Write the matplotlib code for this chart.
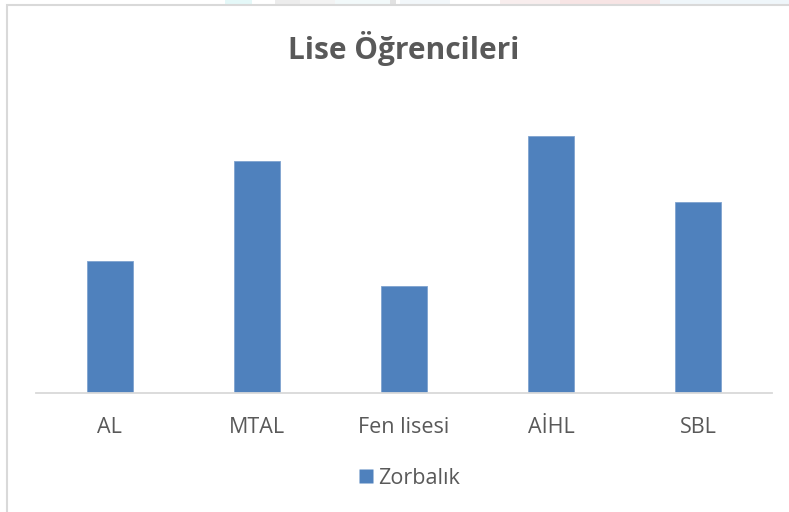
import matplotlib.pyplot as plt
from matplotlib.lines import Line2D
from matplotlib.patches import Rectangle

plt.rcParams['font.family'] = ['Open Sans', 'DejaVu Sans']

okul_turleri = ['AL', 'MTAL', 'Fen lisesi', 'AİHL', 'SBL']
zorbalik = [13.2, 23.2, 10.7, 25.7, 19.1]

bar_rengi = '#4F81BD'
yazi_rengi = '#595959'
cizgi_rengi = '#D9D9D9'

W, H = 789, 512
fig = plt.figure(figsize=(W / 100, H / 100), dpi=100)

# faint strip of a picture peeking above the chart frame
for x0, x1, c in [(225, 252, '#E4F8F8'), (275, 300, '#ECECEC'), (300, 335, '#F3F3F3'),
                  (335, 390, '#F2F9FA'), (390, 396, '#E2E2E2'), (400, 450, '#F2F7FA'),
                  (500, 560, '#F8EDED'), (560, 660, '#F7E4E4'), (660, 789, '#EFF6FA')]:
    fig.patches.append(Rectangle((x0 / W, 1 - 4.5 / H), (x1 - x0) / W, 4.5 / H,
                                 transform=fig.transFigure, facecolor=c, edgecolor='none'))

# chart frame
fig.patches.append(Rectangle((6.5 / W, -0.1), 1.2, 1 - 4.7 / H + 0.1,
                             transform=fig.transFigure, fill=False,
                             edgecolor=cizgi_rengi, linewidth=1.5))

ax = fig.add_axes([36 / W, (H - 393) / H, (772 - 36) / W, 300 / H])
x = range(len(okul_turleri))
ax.bar(x, zorbalik, width=0.313, color=bar_rengi, edgecolor='#7FA3CF', linewidth=0.6)
ax.set_xlim(-0.5, len(okul_turleri) - 0.5)
ax.set_ylim(0, 30)

for s in ['top', 'right', 'left']:
    ax.spines[s].set_visible(False)
ax.spines['bottom'].set_color(cizgi_rengi)
ax.spines['bottom'].set_linewidth(1.3)
ax.set_yticks([])
ax.set_xticks(list(x))
ax.set_xticklabels(okul_turleri, fontsize=15.5, color=yazi_rengi)
ax.tick_params(axis='x', length=0, pad=17)

fig.text(404 / W, 1 - 49 / H, 'Lise Öğrencileri', ha='center', va='center',
         fontsize=21.5, fontweight='bold', color=yazi_rengi)

tutamac = Line2D([], [], marker='s', linestyle='none', markersize=9.7,
                 markerfacecolor=bar_rengi, markeredgecolor='none')
leg = fig.legend([tutamac], ['Zorbalık'], loc='center',
                 bbox_to_anchor=(409 / W, 1 - 478 / H), frameon=False,
                 fontsize=15.5, handlelength=0.7, handletextpad=0.2, borderpad=0)
for t in leg.get_texts():
    t.set_color(yazi_rengi)

fig.savefig('out.png', dpi=100)
